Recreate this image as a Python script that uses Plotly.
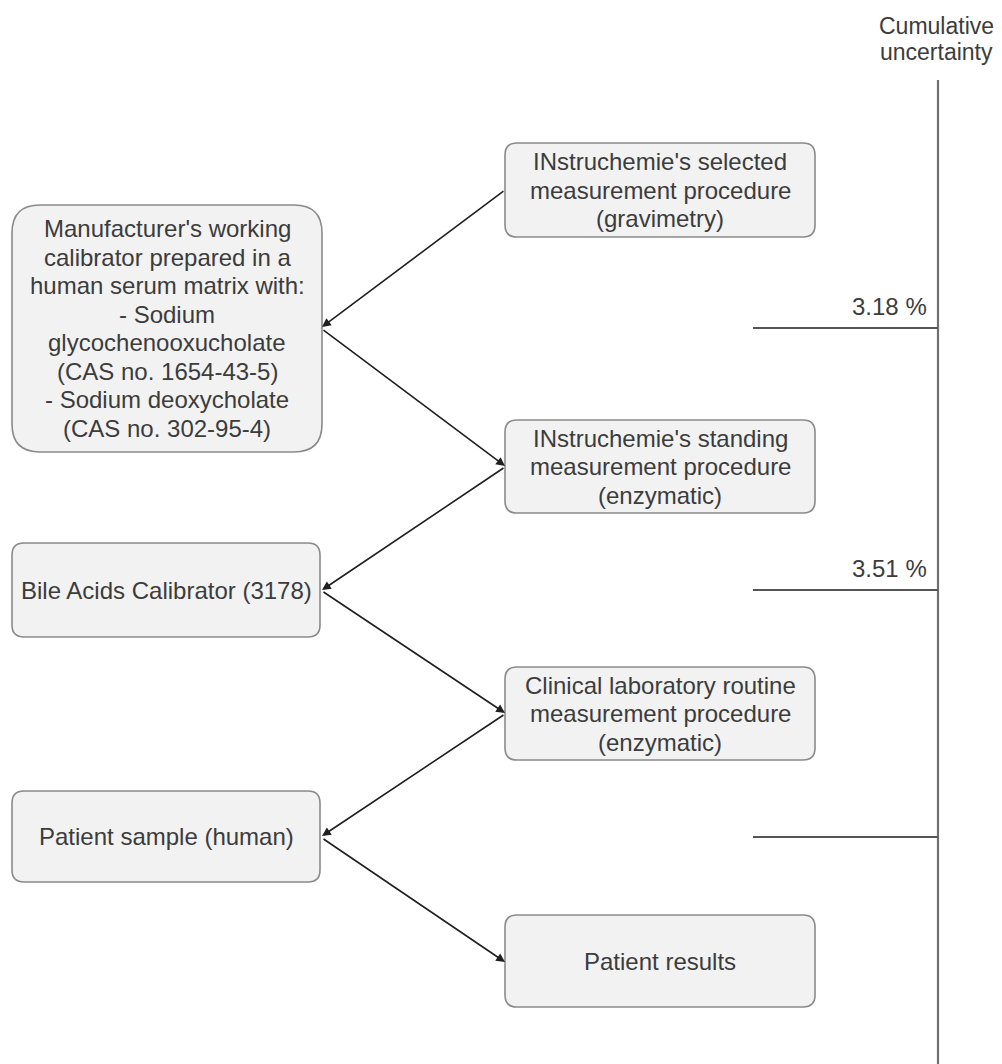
import plotly.graph_objects as go

# ---------------- data ----------------
node_lines = [
    ["INstruchemie's selected", "measurement procedure", "(gravimetry)"],
    ["Manufacturer's working", "calibrator prepared in a", "human serum matrix with:",
     "- Sodium", "glycochenooxucholate", "(CAS no. 1654-43-5)",
     "- Sodium deoxycholate", "(CAS no. 302-95-4)"],
    ["INstruchemie's standing", "measurement procedure", "(enzymatic)"],
    ["Bile Acids Calibrator (3178)"],
    ["Clinical laboratory routine", "measurement procedure", "(enzymatic)"],
    ["Patient sample (human)"],
    ["Patient results"],
]
edges = [(0, 1), (1, 2), (2, 3), (3, 4), (4, 5), (5, 6)]
uncertainty_labels = ["3.18 %", "3.51 %", ""]
axis_title_lines = ["Cumulative", "uncertainty"]

# ---------------- layout geometry ----------------
# boxes: x0, x1, y0, y1, corner radius
boxes = [
    (505, 815, 143, 237, 12),
    (12, 322, 205, 452, 28),
    (505, 815, 420, 513, 12),
    (12, 320, 543, 637, 12),
    (505, 815, 667, 760, 12),
    (12, 320, 791, 882, 12),
    (505, 815, 915, 1007, 12),
]
edge_pts = [
    ((505, 190), (322, 327)),
    ((322, 329), (505, 466)),
    ((505, 467), (322, 590)),
    ((322, 591), (505, 713)),
    ((505, 714), (322, 836)),
    ((322, 838), (505, 962)),
]
tick_y = [328, 590, 837]
axis_x = 938
tick_x0 = 753
line_gap = 28.5

FONT = "Liberation Sans, Arial, sans-serif"
TXT = "#3c3c3c"

fig = go.Figure()
shapes = []
annotations = []


def rrect(x0, x1, y0, y1, r):
    return (f"M {x0+r},{y0} L {x1-r},{y0} Q {x1},{y0} {x1},{y0+r} "
            f"L {x1},{y1-r} Q {x1},{y1} {x1-r},{y1} L {x0+r},{y1} "
            f"Q {x0},{y1} {x0},{y1-r} L {x0},{y0+r} Q {x0},{y0} {x0+r},{y0} Z")


for lines, (x0, x1, y0, y1, r) in zip(node_lines, boxes):
    shapes.append(dict(type="path", path=rrect(x0, x1, y0, y1, r), xref="x", yref="y",
                       fillcolor="#f2f2f2", line=dict(color="#8a8a8a", width=1.6),
                       layer="below"))
    cx = (x0 + x1) / 2
    cy = (y0 + y1) / 2
    n = len(lines)
    for i, t in enumerate(lines):
        yy = cy + (i - (n - 1) / 2) * line_gap
        annotations.append(dict(x=cx, y=yy, xref="x", yref="y", text=t, showarrow=False,
                                xanchor="center", yanchor="middle",
                                font=dict(family=FONT, size=24, color=TXT)))

for (s, t), ((xs, ys), (xe, ye)) in zip(edges, edge_pts):
    annotations.append(dict(x=xe, y=ye, ax=xs, ay=ys, xref="x", yref="y",
                            axref="x", ayref="y", text="", showarrow=True,
                            arrowhead=2, arrowsize=1.1, arrowwidth=1.6,
                            arrowcolor="#202020", standoff=0, startstandoff=0))

# cumulative uncertainty axis
shapes.append(dict(type="line", x0=axis_x, x1=axis_x, y0=80, y1=1064, xref="x", yref="y",
                   line=dict(color="#707070", width=2.2)))
for yv, lab in zip(tick_y, uncertainty_labels):
    shapes.append(dict(type="line", x0=tick_x0, x1=axis_x, y0=yv, y1=yv, xref="x", yref="y",
                       line=dict(color="#555555", width=2)))
    if lab:
        annotations.append(dict(x=929, y=yv - 22, xref="x", yref="y", text=lab,
                                showarrow=False, xanchor="right", yanchor="middle",
                                font=dict(family=FONT, size=24, color=TXT)))

for i, t in enumerate(axis_title_lines):
    annotations.append(dict(x=936, y=26 + i * 26, xref="x", yref="y", text=t,
                            showarrow=False, xanchor="center", yanchor="middle",
                            font=dict(family=FONT, size=23, color=TXT)))

# the page body adds an 8 px offset; shift the visible ranges to compensate
OFF = 8
fig.update_layout(
    width=1002 - OFF, height=1064 - OFF,
    margin=dict(l=0, r=0, t=0, b=0),
    paper_bgcolor="white", plot_bgcolor="white",
    xaxis=dict(range=[OFF, 1002], visible=False, fixedrange=True),
    yaxis=dict(range=[1064, OFF], visible=False, fixedrange=True),
    shapes=shapes, annotations=annotations, showlegend=False,
)

fig.write_html("out.html")
